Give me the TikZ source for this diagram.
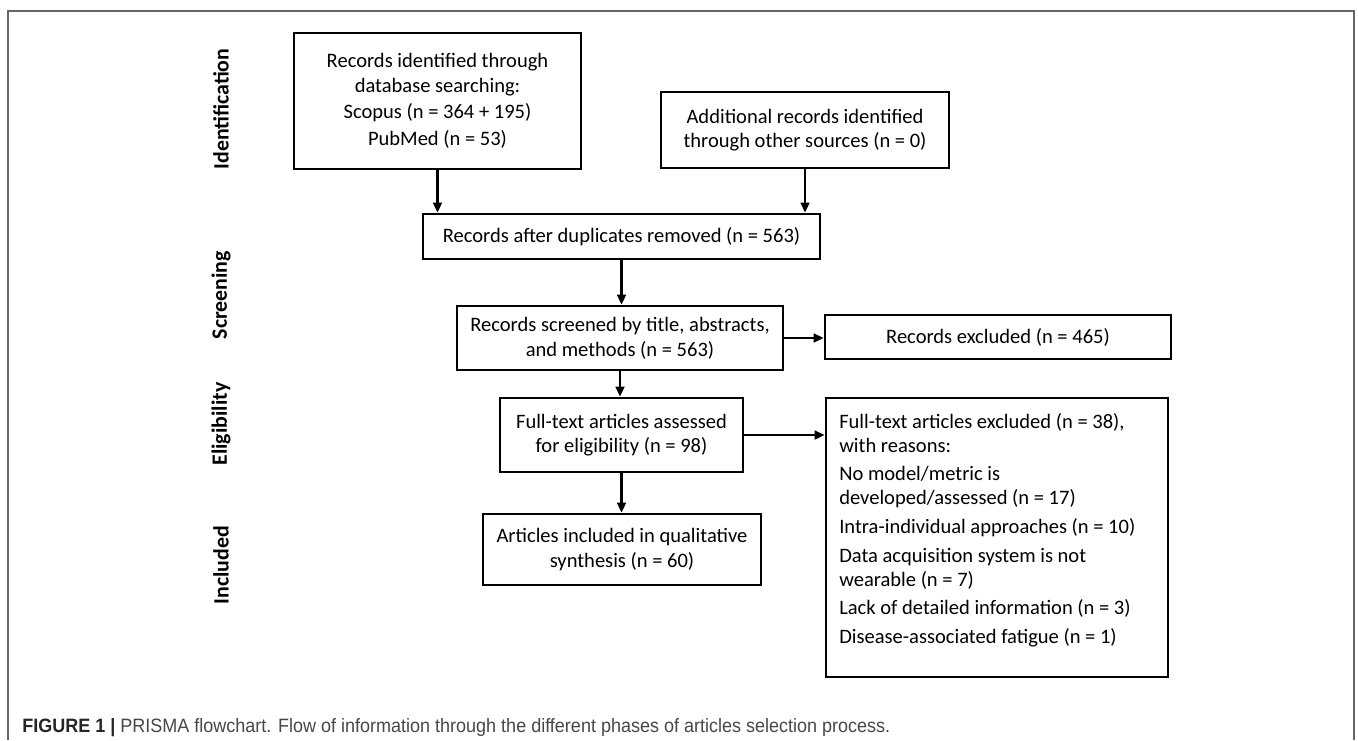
\documentclass[tikz,border=0pt]{standalone}
\usepackage{fontspec}
\usepackage{graphicx}
\setmainfont{Carlito}
\newfontfamily\capfont{Liberation Sans}
\usetikzlibrary{arrows.meta}
\tikzset{
  box/.style 2 args={draw=black, line width=2pt, rectangle, inner sep=2pt,
    minimum width=#1*0.75pt, minimum height=#2*0.75pt, align=center,
    font=\fontsize{15.4}{18.5}\selectfont},
  conn/.style={line width=2pt, -{Triangle[length=7.5pt,width=6.5pt]}},
  phase/.style={rotate=90, font=\fontsize{16.4}{19}\selectfont\bfseries},
  frame/.style={draw=black!60, line width=1.3pt}
}
\begin{document}
\begin{tikzpicture}[x=0.75pt, y=-0.75pt]
\useasboundingbox (0,0) rectangle (1358,740);
% outer frame
\draw[frame] (8,740) -- (8,11) -- (1354,11) -- (1354,740);

% phase labels
\node[phase] (pid) at (221,109) {Identification};
\node[phase] (psc) at (221,295) {Screening};
\node[phase] (pel) at (221,424) {Eligibility};
\node[phase] (pin) at (221,565) {Included};

% boxes
\node[box={287}{136}] (A) at (437.5,101) {Records identified through\\ database searching:\\[1pt] Scopus (n = 364 + 195)\\[2pt] PubMed (n = 53)};
\node[box={288}{76}] (B) at (805,130) {Additional records identified\\ through other sources (n = 0)};
\node[box={397}{45}] (C) at (621.5,236.5) {Records after duplicates removed (n = 563)};
\node[box={326}{64}] (D) at (620,338) {Records screened by title, abstracts,\\ and methods (n = 563)};
\node[box={346}{44}] (E) at (998,337) {Records excluded (n = 465)};
\node[box={243}{74}] (F) at (621.5,435) {Full-text articles assessed\\ for eligibility (n = 98)};
\node[box={342}{279}] (G) at (997,537.5) {};
\node[anchor=north west, inner sep=0pt, align=left, font=\fontsize{15.4}{18}\selectfont] (Gt) at (839,413)
  {Full-text articles excluded (n = 38),\\ with reasons:\\[3.5pt]
   No model/metric is\\ developed/assessed (n = 17)\\[3.5pt]
   Intra-individual approaches (n = 10)\\[3.5pt]
   Data acquisition system is not\\ wearable (n = 7)\\[3.5pt]
   Lack of detailed information (n = 3)\\[3.5pt]
   Disease-associated fatigue (n = 1)};
\node[box={278}{71}] (H) at (622,549.5) {Articles included in qualitative\\ synthesis (n = 60)};

% connectors
\draw[conn] (A.south) -- (A.south |- C.north);
\draw[conn] (B.south) -- (B.south |- C.north);
\draw[conn] (C.south) -- (C.south |- D.north);
\draw[conn] (D.east) -- (D.east -| E.west);
\draw[conn] (D.south) -- (D.south |- F.north);
\draw[conn] (F.east) -- (F.east -| G.west);
\draw[conn] (F.south) -- (F.south |- H.north);

% caption
\node[anchor=west, inner sep=0pt] (cap) at (22,728)
  {\resizebox{651pt}{\height}{\capfont\fontsize{14.5}{16}\selectfont{\color{black!85}\bfseries FIGURE 1 |} {\color{black!72}PRISMA flowchart. Flow of information through the different phases of articles selection process.}}};
\end{tikzpicture}
\end{document}
